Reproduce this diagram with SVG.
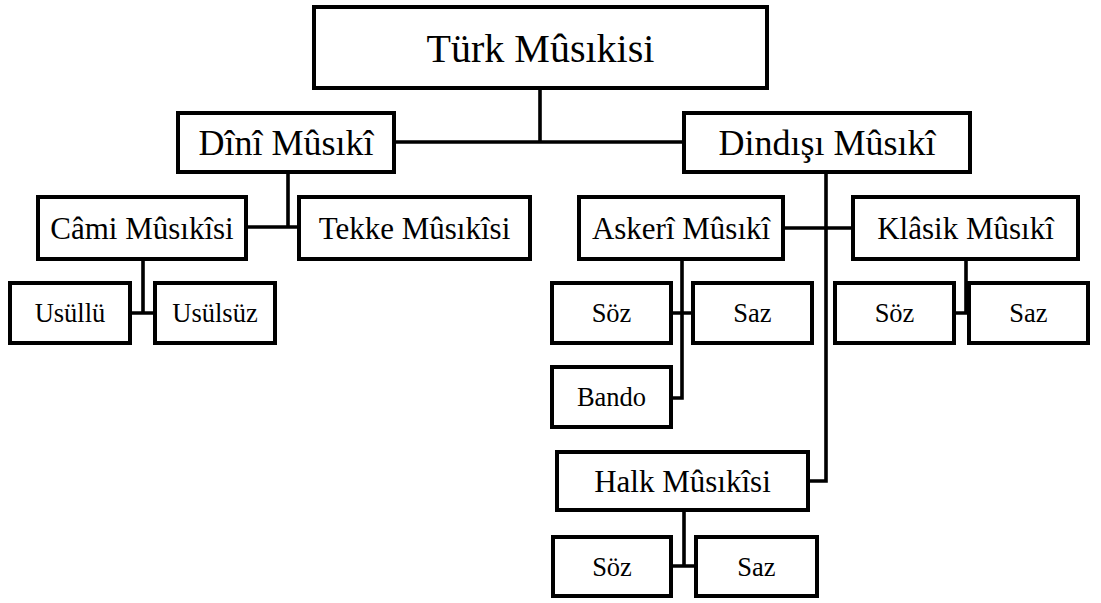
<svg xmlns="http://www.w3.org/2000/svg" width="1101" height="603" viewBox="0 0 1101 603">
<style>
.box{fill:#fff;stroke:#000;stroke-width:4}
.ln{fill:none;stroke:#000;stroke-width:3.6}
text{font-family:"Liberation Serif","Times New Roman",serif;fill:#000;text-anchor:middle}
.t1{font-size:40px}
.t2{font-size:36px}
.t3{font-size:31px}
.t4{font-size:26.5px}
</style>
<rect width="1101" height="603" fill="#fff"/>
<g id="connectors">
<path class="ln" d="M540,88 V142 M394,142 H684"/>
<path class="ln" d="M288,172 V227 M246,227 H299"/>
<path class="ln" d="M143,259 V313 M130,313 H155"/>
<path class="ln" d="M826,172 V481 H808 M783,228 H853"/>
<path class="ln" d="M682,259 V398 H671 M671,313 H693"/>
<path class="ln" d="M966,259 V313 M954,313 H969"/>
<path class="ln" d="M684,510 V566 M671,566 H696"/>
</g>
<g id="turk"><rect class="box" x="314" y="7" width="453" height="81"/><text class="t1" x="540.5" y="62">Türk Mûsıkisi</text></g>
<g id="dini"><rect class="box" x="178" y="113" width="216" height="59"/><text class="t2" x="286" y="155">Dînî Mûsıkî</text></g>
<g id="dindisi"><rect class="box" x="684" y="113" width="286" height="59"/><text class="t2" x="827" y="155">Dindışı Mûsıkî</text></g>
<g id="cami"><rect class="box" x="38" y="197" width="208" height="62"/><text class="t3" x="142" y="239">Câmi Mûsıkîsi</text></g>
<g id="tekke"><rect class="box" x="299" y="197" width="231" height="62"/><text class="t3" x="414.5" y="239">Tekke Mûsıkîsi</text></g>
<g id="askeri"><rect class="box" x="579" y="197" width="204" height="62"/><text class="t3" x="681" y="239">Askerî Mûsıkî</text></g>
<g id="klasik"><rect class="box" x="853" y="197" width="225" height="62"/><text class="t3" x="965.5" y="239">Klâsik Mûsıkî</text></g>
<g id="usullu"><rect class="box" x="10" y="283" width="120" height="60"/><text class="t4" x="70" y="322">Usüllü</text></g>
<g id="usulsuz"><rect class="box" x="155" y="283" width="120" height="60"/><text class="t4" x="215" y="322">Usülsüz</text></g>
<g id="askeri-soz"><rect class="box" x="552" y="283" width="119" height="60"/><text class="t4" x="611.5" y="322">Söz</text></g>
<g id="askeri-saz"><rect class="box" x="693" y="283" width="119" height="60"/><text class="t4" x="752.5" y="322">Saz</text></g>
<g id="bando"><rect class="box" x="552" y="367" width="119" height="60"/><text class="t4" x="611.5" y="406">Bando</text></g>
<g id="klasik-soz"><rect class="box" x="835" y="283" width="119" height="60"/><text class="t4" x="894.5" y="322">Söz</text></g>
<g id="klasik-saz"><rect class="box" x="969" y="283" width="119" height="60"/><text class="t4" x="1028.5" y="322">Saz</text></g>
<g id="halk"><rect class="box" x="557" y="452" width="251" height="58"/><text class="t3" x="682.5" y="492">Halk Mûsıkîsi</text></g>
<g id="halk-soz"><rect class="box" x="553" y="537" width="118" height="59"/><text class="t4" x="612" y="576">Söz</text></g>
<g id="halk-saz"><rect class="box" x="696" y="537" width="121" height="59"/><text class="t4" x="756.5" y="576">Saz</text></g>
</svg>
